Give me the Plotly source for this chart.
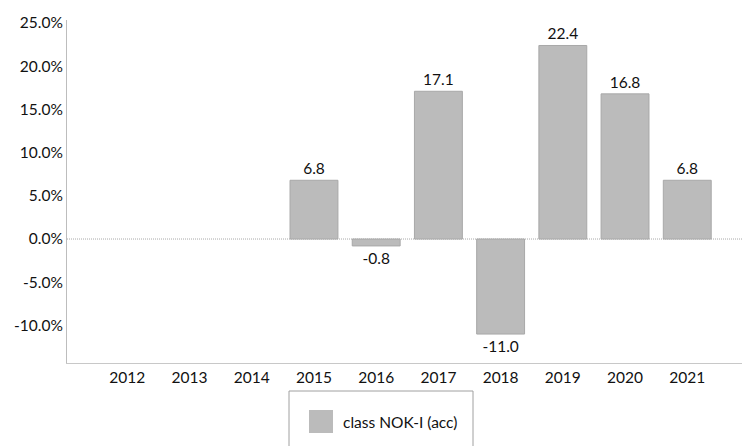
import plotly.graph_objects as go

years = [2012, 2013, 2014, 2015, 2016, 2017, 2018, 2019, 2020, 2021]
values = [None, None, None, 6.8, -0.8, 17.1, -11.0, 22.4, 16.8, 6.8]
labels = ["" if v is None else f"{v:.1f}" for v in values]
y_ticks = [-10, -5, 0, 5, 10, 15, 20, 25]
series_name = "class NOK-I (acc)"

FONT = "Lato, Calibri, Carlito, sans-serif"
BAR = "#BBBBBB"
BAR_LINE = "#A8A8A8"
TXT = "#111111"

fig = go.Figure()
fig.add_trace(go.Bar(
    x=years, y=values, name=series_name,
    width=0.77,
    marker=dict(color=BAR, line=dict(color=BAR_LINE, width=1)),
    text=labels, textposition="outside", cliponaxis=False,
    textfont=dict(family=FONT, size=15.5, color=TXT),
    showlegend=False,
))

# dotted zero line
fig.add_shape(type="line", xref="paper", yref="y", x0=0, x1=1, y0=0, y1=0,
              line=dict(color="#A8A8A8", width=1, dash="1px,1px"), layer="below")

# legend box (drawn) extending past the bottom edge
fig.add_shape(type="rect", xref="paper", yref="paper",
              x0=(289 - 67) / 675, x1=(473 - 67) / 675,
              y0=-(391 - 363) / 343, y1=-(470 - 363) / 343,
              line=dict(color="#A0A0A0", width=1), fillcolor="rgba(0,0,0,0)")
fig.add_shape(type="rect", xref="paper", yref="paper",
              x0=(309 - 67) / 675, x1=(333 - 67) / 675,
              y0=-(410 - 363) / 343, y1=-(433 - 363) / 343,
              line=dict(color=BAR, width=0), fillcolor=BAR)
fig.add_annotation(xref="paper", yref="paper",
                   x=(341 - 67) / 675, y=-(421.5 - 363) / 343,
                   text=series_name, showarrow=False, xanchor="left", yanchor="middle",
                   font=dict(family=FONT, size=15.5, color=TXT))

fig.update_layout(
    width=742, height=446,
    margin=dict(l=67, r=0, t=20, b=83),
    paper_bgcolor="white", plot_bgcolor="white",
    font=dict(family=FONT, size=15.5, color=TXT),
)
fig.update_xaxes(
    range=[2012 - 0.97, 2021 + 0.88],
    tickvals=years, ticktext=[str(y) for y in years],
    showgrid=False, zeroline=False,
    showline=True, linecolor="#C8C8C8", linewidth=1,
    ticks="", tickfont=dict(family=FONT, size=15.5, color=TXT),
)
fig.update_yaxes(
    range=[-14.35, 25.35],
    tickvals=y_ticks, ticktext=[f"{t:.1f}%" for t in y_ticks],
    showgrid=False, zeroline=False,
    showline=True, linecolor="#BDBDBD", linewidth=1,
    ticks="", ticklabelstandoff=0,
    tickfont=dict(family=FONT, size=15.5, color=TXT),
)

fig.write_html("out.html", config={"displayModeBar": False},
               post_script="document.body.style.margin='0';")
